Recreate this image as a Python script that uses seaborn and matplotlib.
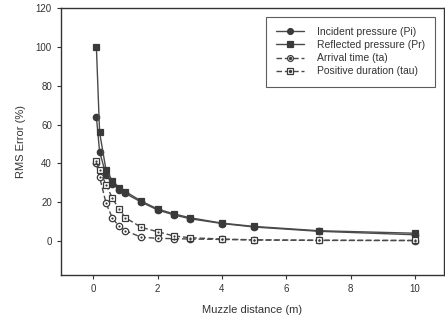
import numpy as np
import pandas as pd
import matplotlib
matplotlib.use("Agg")
import matplotlib.pyplot as plt
import seaborn as sns
from matplotlib.legend_handler import HandlerTuple

sns.set_theme(style="white")
plt.rcParams['font.family'] = ['Liberation Sans', 'DejaVu Sans']

distance = [0.1, 0.2, 0.4, 0.6, 0.8, 1.0, 1.5, 2.0, 2.5, 3.0, 4.0, 5.0, 7.0, 10.0]
incident = [64, 46, 34, 29.5, 26.5, 24.5, 20, 16, 13.5, 11.5, 9, 7.2, 5, 3.2]
reflected = [100, 56, 36.5, 31, 27.5, 25.5, 20.5, 16.5, 14, 12, 9.2, 7.5, 5.3, 4]
arrival = [40, 33, 19.5, 11.7, 7.7, 5.3, 1.9, 1.4, 1.2, 1.0, 0.8, 0.5, 0.3, 0.2]
duration = [41, 36.5, 29, 22, 16.5, 12, 7, 4.8, 2.6, 1.7, 1.0, 0.6, 0.4, 0.3]
labels = ["Incident pressure (Pi)", "Reflected pressure (Pr)",
          "Arrival time (ta)", "Positive duration (tau)"]

fig = plt.figure(figsize=(4.45, 3.25), dpi=100)
ax = fig.add_axes([0.137, 0.154, 0.861, 0.821])

dark = "#3a3a3a"
line_c = "#4a4a4a"
series = [
    (incident, "o", dark, "-", True),
    (reflected, "s", dark, "-", True),
    (arrival, "o", "white", (0, (4, 2)), False),
    (duration, "s", "white", (0, (4, 2)), False),
]
handles = []
for (vals, mk, fc, ls, filled), lab in zip(series, labels):
    df = pd.DataFrame({"x": distance, "y": vals})
    sns.lineplot(data=df, x="x", y="y", ax=ax, color=line_c, lw=1.0,
                 linestyle=ls, marker=mk, markersize=4.6,
                 markerfacecolor=fc, markeredgecolor=dark, markeredgewidth=0.9)
    h1 = plt.Line2D([], [], color=line_c, lw=1.0, linestyle=ls, marker=mk,
                    markersize=4.2, markerfacecolor=fc, markeredgecolor=dark,
                    markeredgewidth=0.9)
    if not filled:
        sns.scatterplot(data=df, x="x", y="y", ax=ax, marker="o", s=2.5,
                        color=dark, edgecolor=dark, linewidth=0, zorder=5)
        h2 = plt.Line2D([], [], lw=0, marker="o", markersize=1.4,
                        color=dark)
        handles.append((h1, h2))
    else:
        handles.append(h1)

ax.set_xlim(-1, 10.9)
ax.set_ylim(-17.5, 120)
ax.set_xticks([0, 2, 4, 6, 8, 10])
ax.set_yticks([0, 20, 40, 60, 80, 100, 120])
ax.tick_params(axis="both", direction="out", length=3, width=0.8,
               labelsize=7, colors="#333333", bottom=True, left=True)
for s in ax.spines.values():
    s.set_color("#333333")
    s.set_linewidth(1.0)
ax.set_xlabel("Muzzle distance (m)", fontsize=8, color="#333333", labelpad=8)
ax.set_ylabel("RMS Error (%)", fontsize=8, color="#333333", labelpad=7)

leg = ax.legend(handles, labels, loc="upper right",
                bbox_to_anchor=(0.985, 0.98), fontsize=7.5, frameon=True,
                fancybox=False, edgecolor="#333333", handlelength=2.7,
                handletextpad=1.2, borderpad=1.0, labelspacing=0.3,
                borderaxespad=0.3,
                handler_map={tuple: HandlerTuple(ndivide=1)})
leg.get_frame().set_linewidth(0.8)
for t in leg.get_texts():
    t.set_color("#333333")

fig.savefig("out.png", dpi=100)
